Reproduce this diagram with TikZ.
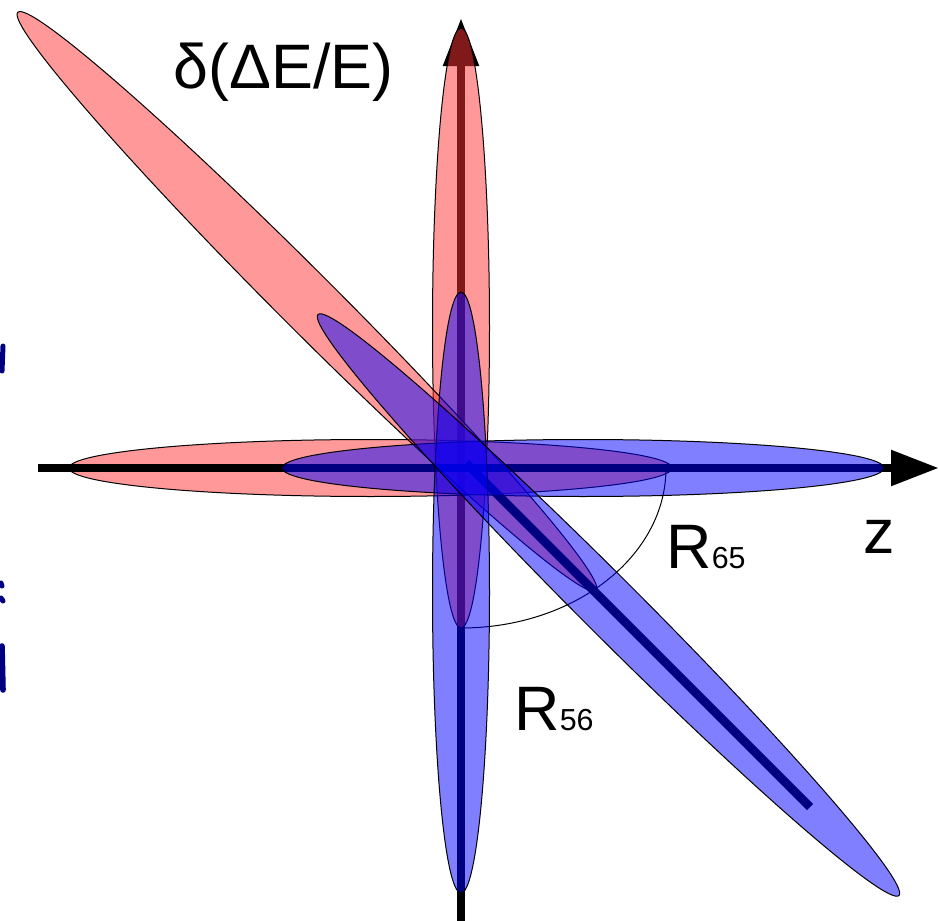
\documentclass[tikz,border=0pt]{standalone}
\usepackage{fontspec}
\setmainfont{Liberation Sans}
\usetikzlibrary{arrows.meta,positioning}
\definecolor{redfill}{RGB}{255,51,51}
\definecolor{bluefill}{RGB}{0,0,255}
\definecolor{ink}{RGB}{0,0,128}
\tikzset{axis/.style={line width=4.25pt,-{Triangle[length=24pt,width=17pt]}},redell/.style={draw=black,line width=0.5pt,fill=redfill,fill opacity=0.5},blueell/.style={draw=black,line width=0.5pt,fill=bluefill,fill opacity=0.5},lab/.style={inner sep=0pt,anchor=base west,font=\fontsize{31.4}{36}\selectfont}}
\newcommand{\subsz}{\fontsize{15.2}{18}\selectfont}

\begin{document}
\begin{tikzpicture}[x=0.5pt,y=-0.5pt]
\useasboundingbox (0,0) rectangle (939,921);
\coordinate (O) at (461,468);
\coordinate (zs) at (38,468);\coordinate (ze) at (939,468);
\coordinate (ds) at (461,921);\coordinate (de) at (461,18);
\coordinate (cs) at (466,463);\coordinate (ce) at (810,807);
\draw[axis](ds)--(de);
% red ellipses
\draw[redell] (461,328) ellipse[x radius=14.25pt,y radius=150pt];
\draw[redell] (370.5,468) ellipse[x radius=150.75pt,y radius=14.25pt];
\draw[redell,rotate around={-45:(307,301.5)}] (307,301.5) ellipse[x radius=204.5pt,y radius=14.5pt];
\draw[axis](zs)--(ze);
\draw[line width=4.25pt](cs)--(ce);
\draw[line width=0.5pt](O)++(205,0) arc[start angle=0,end angle=-90,x radius=102.5pt,y radius=80pt];
% blue ellipses
\draw[blueell] (583,468) ellipse[x radius=150.5pt,y radius=14.25pt];
\draw[blueell] (461,592.5) ellipse[x radius=14.25pt,y radius=150.25pt];
\draw[blueell,rotate around={-45:(608.5,605)}] (608.5,605) ellipse[x radius=205.4pt,y radius=14.5pt];
% labels
\node[lab] (dee) at (173,88) {δ(ΔE/E)};
\node[lab] (r65) at (666,568) {R{\subsz 65}};
\node[lab] (zl) at (863,553) {z};
\node[lab] (r56) at (514,730) {R{\subsz 56}};
% marks on the left edge
\draw[ink,line width=2.5pt,line cap=round] (3,346)--(2,371);
\draw[ink,line width=2.5pt,line cap=round] (1,583)--(2,586) (1,598)--(3,601);
\draw[ink,line width=2.8pt,line cap=round] (2,646)--(3,690);
\end{tikzpicture}
\end{document}
